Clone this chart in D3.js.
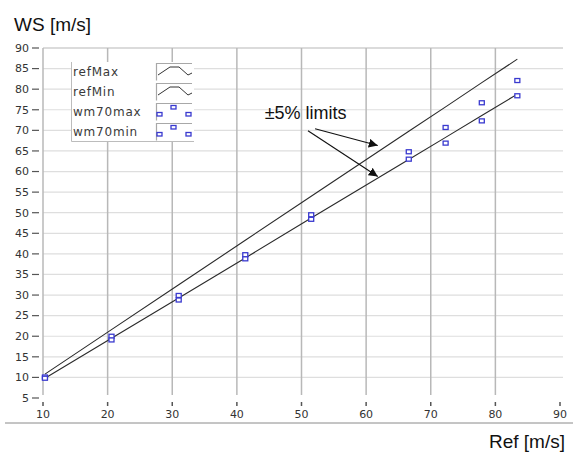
<!DOCTYPE html>
<html>
<head>
<meta charset="utf-8">
<script src="https://cdn.jsdelivr.net/npm/d3@7"></script>
<style>
  body { margin: 0; background: #fff; }
  svg { display: block; }
</style>
</head>
<body>
<svg id="chart"></svg>
<script>
// WS vs Ref scatter with +-5% limit lines

const refX = [10.3, 20.6, 31.0, 41.3, 51.5, 66.6, 72.3, 77.9, 83.4];
const refMax = [10.8, 21.6, 32.5, 43.3, 54.0, 69.8, 75.7, 81.6, 87.3];
const refMin = [9.8, 19.5, 29.3, 39.0, 48.7, 62.9, 68.3, 73.6, 78.8];
const wm70max = [10.1, 20.0, 29.9, 39.8, 49.5, 64.8, 70.7, 76.7, 82.1];
const wm70min = [9.8, 19.1, 28.8, 38.8, 48.4, 63.0, 66.9, 72.3, 78.4];
const xTicks = [10, 20, 30, 40, 50, 60, 70, 80, 90];
const yTicks = [5, 10, 15, 20, 25, 30, 35, 40, 45, 50, 55, 60, 65, 70, 75, 80, 85, 90];
const legendNames = ['refMax', 'refMin', 'wm70max', 'wm70min'];

const width = 573;
const height = 453;
const margin = { top: 48, right: 13, bottom: 55, left: 43 };

const tickFont = 'DejaVu Sans, Verdana, sans-serif';
const labelFont = 'Liberation Sans, Arial, sans-serif';
const markColor = '#3a3acf';

const svg = d3.select('#chart')
  .attr('width', width)
  .attr('height', height);

const g = svg.append('g')
  .attr('transform', `translate(${margin.left},${margin.top})`);

const xScale = d3.scaleLinear()
  .domain([10, 90])
  .range([0, 517]);

const yScale = d3.scaleLinear()
  .domain([5, 90])
  .range([350, 0]);

// horizontal grid
g.append('g')
  .selectAll('line')
  .data(yTicks.filter(d => d > 5))
  .enter()
  .append('line')
  .attr('x1', 0)
  .attr('x2', xScale(90) + 3)
  .attr('y1', d => yScale(d))
  .attr('y2', d => yScale(d))
  .style('stroke', d => d === 90 ? '#b8b8b8' : '#dedede')
  .style('stroke-width', '1.2px');

// vertical grid
g.append('g')
  .selectAll('line')
  .data(xTicks.filter(d => d < 90))
  .enter()
  .append('line')
  .attr('x1', d => xScale(d))
  .attr('x2', d => xScale(d))
  .attr('y1', 0)
  .attr('y2', yScale(5) - 3)
  .style('stroke', '#b8b8b8')
  .style('stroke-width', '1.5px');

// y axis ticks + labels
const yAxis = g.append('g');
yAxis.selectAll('line')
  .data(yTicks)
  .enter()
  .append('line')
  .attr('x1', -11)
  .attr('x2', -4)
  .attr('y1', d => yScale(d))
  .attr('y2', d => yScale(d))
  .style('stroke', '#555')
  .style('stroke-width', '1.2px');

yAxis.selectAll('text')
  .data(yTicks)
  .enter()
  .append('text')
  .attr('x', -14)
  .attr('y', d => yScale(d))
  .attr('dy', '0.35em')
  .attr('text-anchor', 'end')
  .style('font-family', tickFont)
  .style('font-size', '11px')
  .style('fill', '#333')
  .text(d => d);

// x axis ticks + labels
const xAxis = g.append('g');
xAxis.selectAll('line')
  .data(xTicks)
  .enter()
  .append('line')
  .attr('x1', d => xScale(d))
  .attr('x2', d => xScale(d))
  .attr('y1', yScale(5) + 4)
  .attr('y2', yScale(5) + 8)
  .style('stroke', '#555')
  .style('stroke-width', '1.5px');

xAxis.selectAll('text')
  .data(xTicks)
  .enter()
  .append('text')
  .attr('x', d => xScale(d))
  .attr('y', yScale(5) + 20)
  .attr('text-anchor', 'middle')
  .style('font-family', tickFont)
  .style('font-size', '11px')
  .style('fill', '#333')
  .text(d => d);

// bottom rule
svg.append('line')
  .attr('x1', 5)
  .attr('x2', width)
  .attr('y1', 423)
  .attr('y2', 423)
  .style('stroke', '#8a8a8a')
  .style('stroke-width', '1px');

// axis titles
svg.append('text')
  .attr('x', 14)
  .attr('y', 31)
  .style('font-family', labelFont)
  .style('font-size', '19px')
  .style('fill', '#111')
  .text('WS [m/s]');

svg.append('text')
  .attr('x', 565)
  .attr('y', 448)
  .attr('text-anchor', 'end')
  .style('font-family', labelFont)
  .style('font-size', '19px')
  .style('fill', '#111')
  .text('Ref [m/s]');

// limit lines
const line = d3.line()
  .x(d => xScale(d[0]))
  .y(d => yScale(d[1]));

[refMax, refMin].forEach(vals => {
  g.append('path')
    .attr('d', line(refX.map((x, i) => [x, vals[i]])))
    .style('fill', 'none')
    .style('stroke', '#2a2a2a')
    .style('stroke-width', '1.1px');
});

// square markers
[wm70max, wm70min].forEach(vals => {
  g.append('g')
    .selectAll('rect')
    .data(refX.map((x, i) => [x, vals[i]]))
    .enter()
    .append('rect')
    .attr('x', d => xScale(d[0]) - 2.5)
    .attr('y', d => yScale(d[1]) - 2)
    .attr('width', 5)
    .attr('height', 4)
    .style('fill', 'white')
    .style('stroke', markColor)
    .style('stroke-width', '1.3px');
});

// annotation
svg.append('defs').append('marker')
  .attr('id', 'arrow')
  .attr('viewBox', '0 0 10 10')
  .attr('refX', 10)
  .attr('refY', 5)
  .attr('markerWidth', 9)
  .attr('markerHeight', 9)
  .attr('markerUnits', 'userSpaceOnUse')
  .attr('orient', 'auto')
  .append('path')
  .attr('d', 'M0,0 L10,5 L0,10 z')
  .style('fill', '#111');

g.append('text')
  .attr('x', xScale(44.3))
  .attr('y', yScale(74.3))
  .attr('dy', '0.35em')
  .style('font-family', labelFont)
  .style('font-size', '18px')
  .style('fill', '#111')
  .text('±5% limits');

const arrows = [
  { from: [52.1, 70.4], to: [61.8, 66.3] },
  { from: [51.0, 69.9], to: [61.8, 58.8] }
];
g.selectAll('.arrow')
  .data(arrows)
  .enter()
  .append('line')
  .attr('class', 'arrow')
  .attr('x1', d => xScale(d.from[0]))
  .attr('y1', d => yScale(d.from[1]))
  .attr('x2', d => xScale(d.to[0]))
  .attr('y2', d => yScale(d.to[1]))
  .style('stroke', '#111')
  .style('stroke-width', '1.1px')
  .attr('marker-end', 'url(#arrow)');

// legend
const legend = svg.append('g')
  .attr('transform', 'translate(71,62)');

legend.append('rect')
  .attr('x', 0)
  .attr('y', 0)
  .attr('width', 123)
  .attr('height', 79)
  .style('fill', 'white')
  .style('stroke', 'none');

legend.append('path')
  .attr('d', 'M0.5,0 V79.5 H123')
  .style('fill', 'none')
  .style('stroke', '#bcbcbc')
  .style('stroke-width', '1px');

const legendItems = legend.selectAll('.legend-item')
  .data(legendNames)
  .enter()
  .append('g')
  .attr('class', 'legend-item')
  .attr('transform', (d, i) => `translate(0,${i * 20})`);

legendItems.append('text')
  .attr('x', 2)
  .attr('y', 10)
  .attr('dy', '0.35em')
  .style('font-family', tickFont)
  .style('font-size', '12px')
  .style('letter-spacing', '0.8px')
  .style('fill', '#3a3a3a')
  .text(d => d);

legendItems.append('rect')
  .attr('x', 85)
  .attr('y', 1.5)
  .attr('width', 36)
  .attr('height', 17)
  .style('fill', 'white');

legendItems.append('path')
  .attr('d', 'M85.5,18.5 V1.5 H121')
  .style('fill', 'none')
  .style('stroke', '#a8a8a8')
  .style('stroke-width', '1.2px');

legendItems.filter((d, i) => i < 2)
  .append('path')
  .attr('d', 'M87,13 L99,5 L108,5 L117,13 L121,11')
  .style('fill', 'none')
  .style('stroke', '#333')
  .style('stroke-width', '1px');

legendItems.filter((d, i) => i >= 2)
  .selectAll('.sym')
  .data([[88, 12], [102, 5], [117, 12]])
  .enter()
  .append('rect')
  .attr('x', d => d[0] - 2)
  .attr('y', d => d[1] - 1.5)
  .attr('width', 5)
  .attr('height', 3.5)
  .style('fill', 'white')
  .style('stroke', markColor)
  .style('stroke-width', '1.3px');
</script>
</body>
</html>
